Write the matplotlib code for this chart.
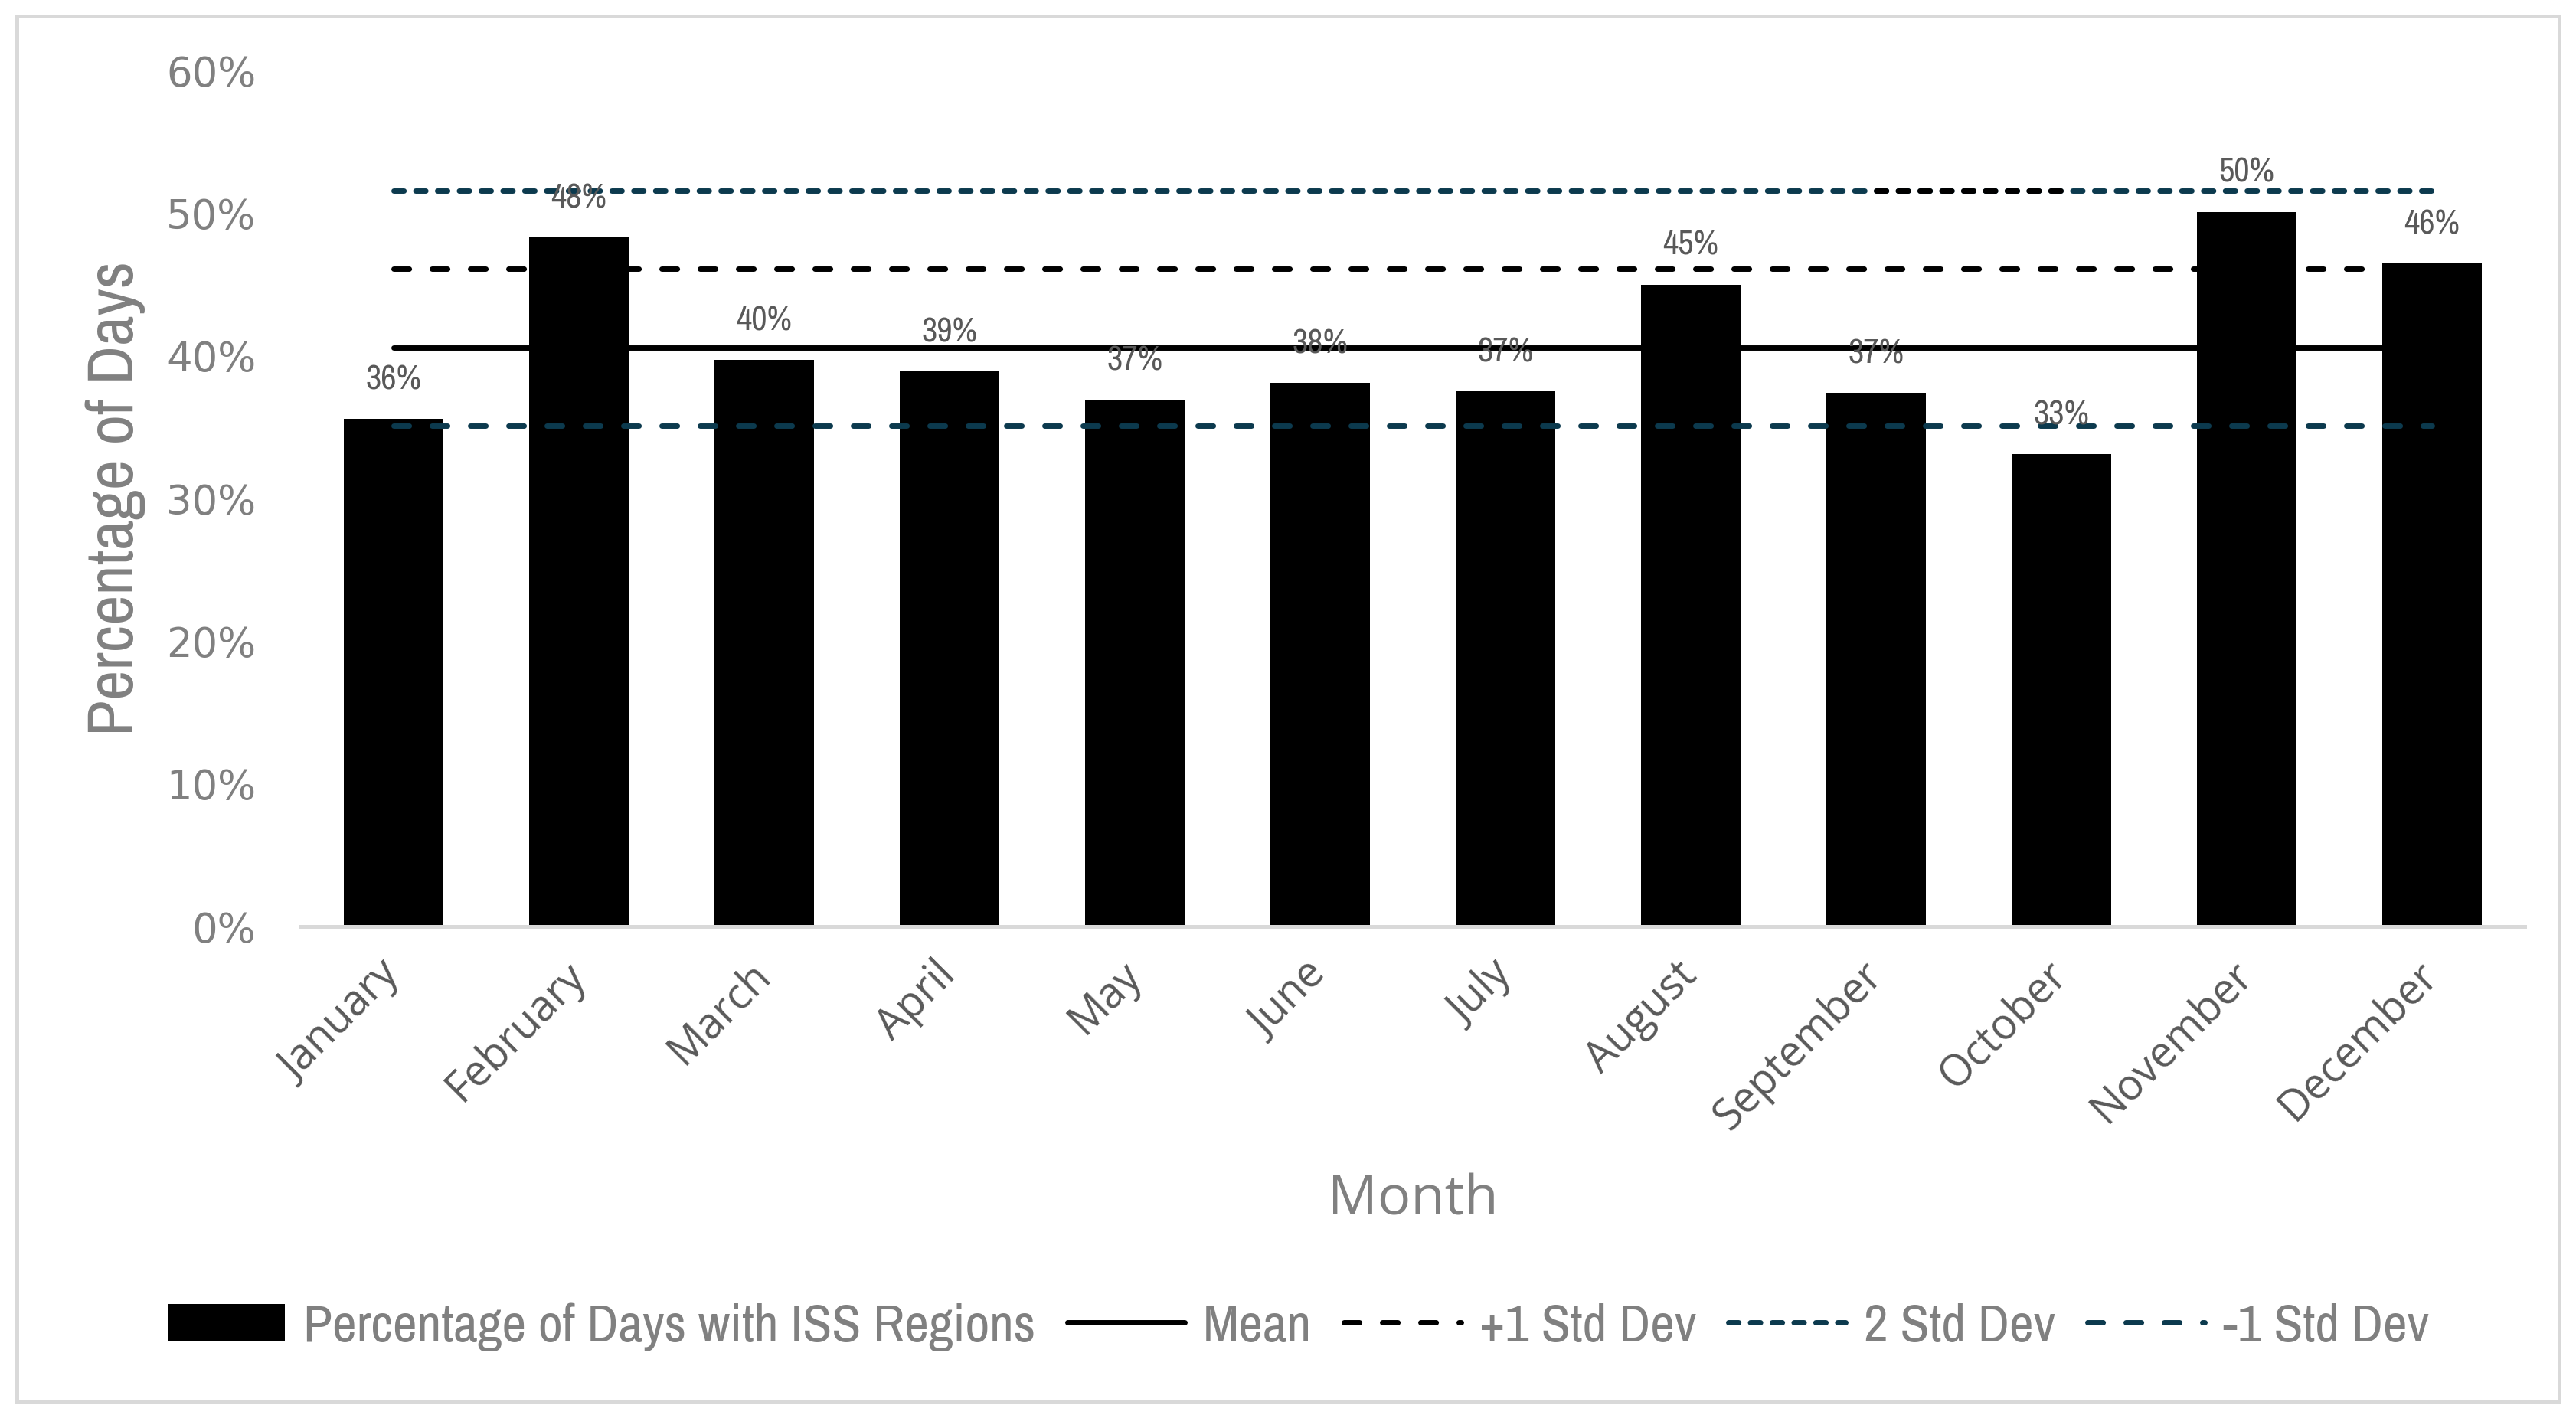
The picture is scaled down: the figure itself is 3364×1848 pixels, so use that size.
import matplotlib
matplotlib.use("Agg")
import matplotlib.pyplot as plt
import numpy as np
from matplotlib.patches import Rectangle

months = ["January", "February", "March", "April", "May", "June", "July",
          "August", "September", "October", "November", "December"]
pct_days = [0.356, 0.483, 0.397, 0.389, 0.369, 0.381, 0.375,
            0.450, 0.374, 0.331, 0.501, 0.465]
bar_labels = ["36%", "48%", "40%", "39%", "37%", "38%", "37%",
              "45%", "37%", "33%", "50%", "46%"]
mean_val = 0.406
plus1_val = 0.461
plus2_val = 0.516
minus1_val = 0.351
# short black piece of the 2 std line between September and October
extra_seg = [np.nan] * 8 + [plus2_val, plus2_val] + [np.nan, np.nan]

NARROW = ["Archivo Narrow", "DejaVu Sans"]
navy = "#0C3A4E"
gray_tick = "#808080"
gray_lab = "#595959"

fig = plt.figure(figsize=(16.82, 9.24), dpi=200)
ax = fig.add_axes([0.1168, 0.3452, 0.8633, 0.605])

x = np.arange(len(months))
bars = ax.bar(x, pct_days, width=0.54, color="black", zorder=2,
              label="Percentage of Days with ISS Regions")

lw = 2.5
l_mean, = ax.plot(x, [mean_val] * len(x), color="black", lw=lw, zorder=3,
                  solid_capstyle="round", label="Mean")
l_p1, = ax.plot(x, [plus1_val] * len(x), color="black", lw=lw, zorder=3,
                dashes=(2.9, 4.3), dash_capstyle="round", label="+1 Std Dev")
l_p2, = ax.plot(x, [plus2_val] * len(x), color=navy, lw=lw, zorder=3,
                dashes=(1.9, 2.2), dash_capstyle="round", label="2 Std Dev")
ax.plot(x, extra_seg, color="black", lw=lw, zorder=3,
        dashes=(1.9, 2.2), dash_capstyle="round")
l_m1, = ax.plot(x, [minus1_val] * len(x), color=navy, lw=lw, zorder=3,
                dashes=(2.9, 4.3), dash_capstyle="round", label="-1 Std Dev")

for i, v in enumerate(pct_days):
    ax.annotate(bar_labels[i], (x[i], v), xytext=(0, 11), textcoords="offset points",
                ha="center", va="bottom", fontsize=16, color=gray_lab,
                family=NARROW, zorder=4)

ax.set_xlim(-0.5, 11.5)
ax.set_ylim(0, 0.6)
ax.set_yticks(np.arange(0, 0.61, 0.1))
ax.set_yticklabels(["{:.0%}".format(t) for t in np.arange(0, 0.61, 0.1)],
                   fontsize=19, color=gray_tick, family="DejaVu Sans")
ax.set_xticks(x)
ax.set_xticklabels(months, rotation=45, ha="right", va="center",
                   rotation_mode="anchor", fontsize=20, color=gray_lab,
                   family="Open Sans")
ax.tick_params(axis="both", length=0)
ax.tick_params(axis="y", pad=21)
ax.tick_params(axis="x", pad=20)

for s in ["top", "right", "left"]:
    ax.spines[s].set_visible(False)
ax.spines["bottom"].set_color("#D9D9D9")
ax.spines["bottom"].set_linewidth(1.8)

ax.set_xlabel("Month", fontsize=26, color=gray_tick, family="Open Sans", labelpad=16)
ax.set_ylabel("Percentage of Days", fontsize=31, color=gray_tick,
              family=NARROW, labelpad=10)

leg = fig.legend(handles=[bars, l_mean, l_p1, l_p2, l_m1],
                 loc="center", bbox_to_anchor=(0.504, 0.0622), ncol=5,
                 frameon=False, handlelength=2.2, handletextpad=0.35,
                 columnspacing=0.6, prop={"family": NARROW, "size": 25})
for t in leg.get_texts():
    t.set_color(gray_tick)

fig.patches.append(Rectangle((0.0065, 0.0097), 0.987, 0.979, transform=fig.transFigure,
                             fill=False, edgecolor="#D9D9D9", lw=1.8))

fig.savefig("out.png", dpi=200, facecolor="white")
